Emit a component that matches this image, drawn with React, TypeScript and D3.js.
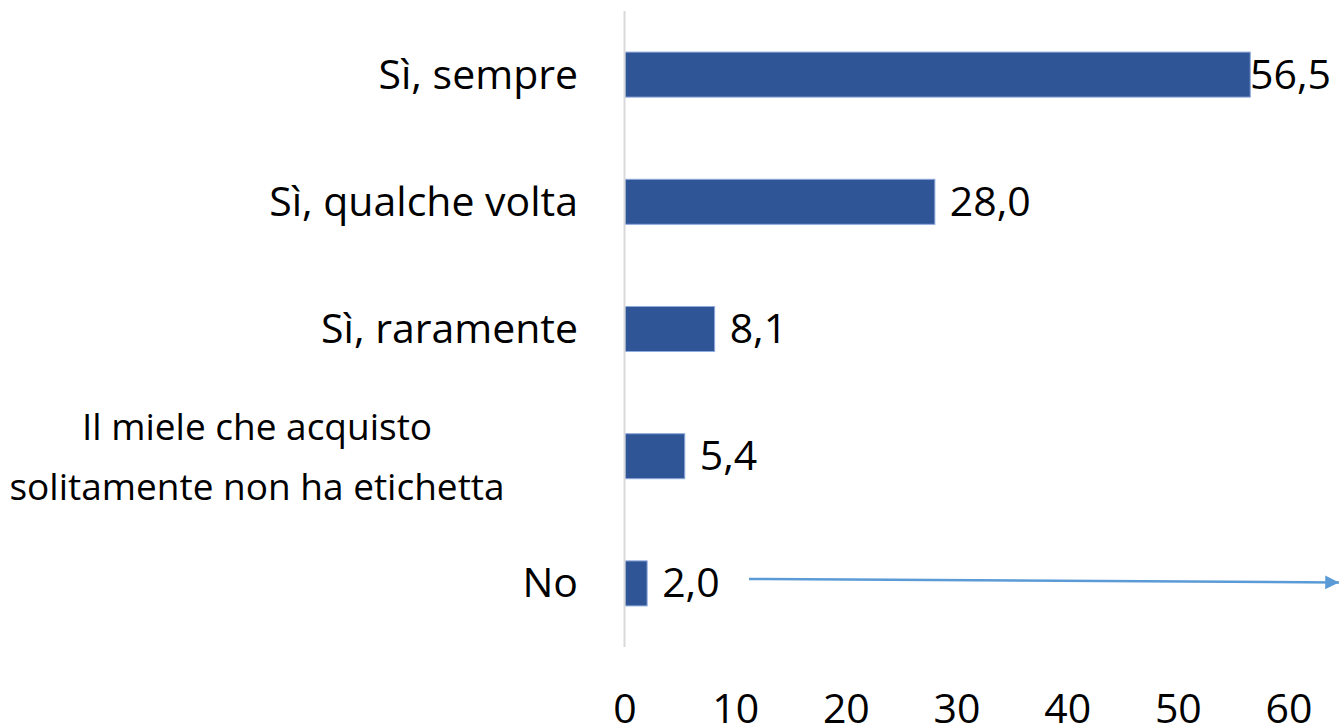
import React from "react";
import * as d3 from "d3";

const categories: string[][] = [
  ["Sì, sempre"],
  ["Sì, qualche volta"],
  ["Sì, raramente"],
  ["Il miele che acquisto", "solitamente non ha etichetta"],
  ["No"],
];
const values: number[] = [56.5, 28.0, 8.1, 5.4, 2.0];
const ticks: number[] = [0, 10, 20, 30, 40, 50, 60];

const W = 1340;
const H = 728;
const FONT = "'Open Sans', 'Noto Sans', sans-serif";
const FS = 41;
const FS_WRAP = 37;

export default function App() {
  const x = d3.scaleLinear().domain([0, 60]).range([625, 1289]);
  const keys = categories.map((_, i) => String(i));
  const y = d3
    .scaleBand<string>()
    .domain(keys)
    .range([11, 647])
    .paddingInner(0.646)
    .paddingOuter(0.323);
  const fmt = (v: number) => v.toFixed(1).replace(".", ",");
  const lastCenter = (y("4") ?? 0) + y.bandwidth() / 2;

  return (
    <svg
      width={W}
      height={H}
      style={{ position: "absolute", left: 0, top: 0, background: "#fff" }}
      fontFamily={FONT}
    >
      <defs>
        <marker
          id="arr"
          viewBox="0 0 10 10"
          refX="10"
          refY="5"
          markerWidth="5.5"
          markerHeight="6"
          markerUnits="strokeWidth"
          orient="auto"
        >
          <path d="M0,0 L10,5 L0,10 Z" fill="#5b9bd5" />
        </marker>
      </defs>
      {values.map((v, i) => {
        const yy = y(String(i)) ?? 0;
        const cy = yy + y.bandwidth() / 2;
        const end = x(v);
        const labelX = Math.min(end + 15, 1250);
        const lines = categories[i];
        const wrapped = lines.length > 1;
        const lh = 60;
        return (
          <g key={i}>
            <rect
              x={x(0)}
              y={yy}
              width={end - x(0)}
              height={y.bandwidth()}
              fill="#2f5597"
              stroke="#8faadc"
              strokeWidth={1}
            />
            <text x={labelX} y={cy + 14} fontSize={FS} fill="#000">
              {fmt(v)}
            </text>
            {lines.map((ln, j) => (
              <text
                key={j}
                x={wrapped ? 257 : 578}
                y={cy + 14 + (j - (lines.length - 1) / 2) * lh}
                fontSize={wrapped ? FS_WRAP : FS}
                textAnchor={wrapped ? "middle" : "end"}
                fill="#000"
              >
                {ln}
              </text>
            ))}
          </g>
        );
      })}
      <line x1={624.5} x2={624.5} y1={11} y2={647} stroke="#d9d9d9" strokeWidth={2} />
      {ticks.map((t) => (
        <text key={t} x={x(t)} y={723} fontSize={FS} textAnchor="middle" fill="#000">
          {t}
        </text>
      ))}
      <line
        x1={749}
        y1={lastCenter - 4.5}
        x2={1339}
        y2={lastCenter - 1}
        stroke="#5b9bd5"
        strokeWidth={2.5}
        markerEnd="url(#arr)"
      />
    </svg>
  );
}
